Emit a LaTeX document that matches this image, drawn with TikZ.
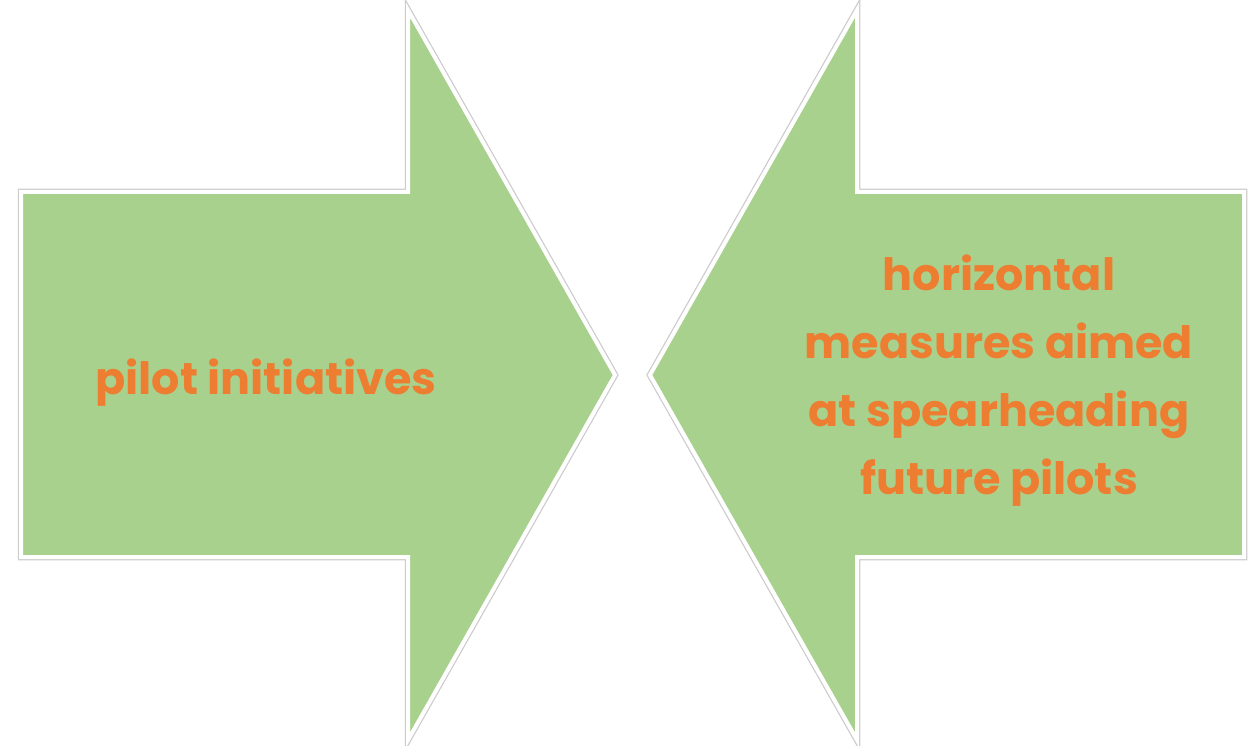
\documentclass[tikz,border=0pt]{standalone}
\usepackage{fontspec}
\setmainfont{Poppins}
\definecolor{arrowgreen}{HTML}{A9D18E}
\definecolor{txtorange}{HTML}{ED7D31}
\begin{document}
\begin{tikzpicture}[x=1pt,y=-1pt,
  shadowline/.style={draw=black!20,line width=6.5pt},
  arrowbody/.style={fill=arrowgreen,draw=white,line width=4pt},
  lbl/.style={text=txtorange,font=\fontsize{44.5}{68}\selectfont\bfseries,align=center}]
\useasboundingbox (0,0) rectangle (1248,746);
\def\lpath{(21,192) -- (408,192) -- (408,10) -- (615,375) -- (408,740) -- (408,557) -- (21,557) -- cycle}
\def\rpath{(1244,192) -- (857,192) -- (857,10) -- (650,375) -- (857,740) -- (857,557) -- (1244,557) -- cycle}
\draw[shadowline] \lpath;
\draw[shadowline] \rpath;
\draw[arrowbody] \lpath;
\draw[arrowbody] \rpath;
\node[lbl] (left) at (266,383) {pilot initiatives};
\node[lbl] (right) at (999,381) {horizontal\\measures aimed\\at spearheading\\future pilots};
\end{tikzpicture}
\end{document}
